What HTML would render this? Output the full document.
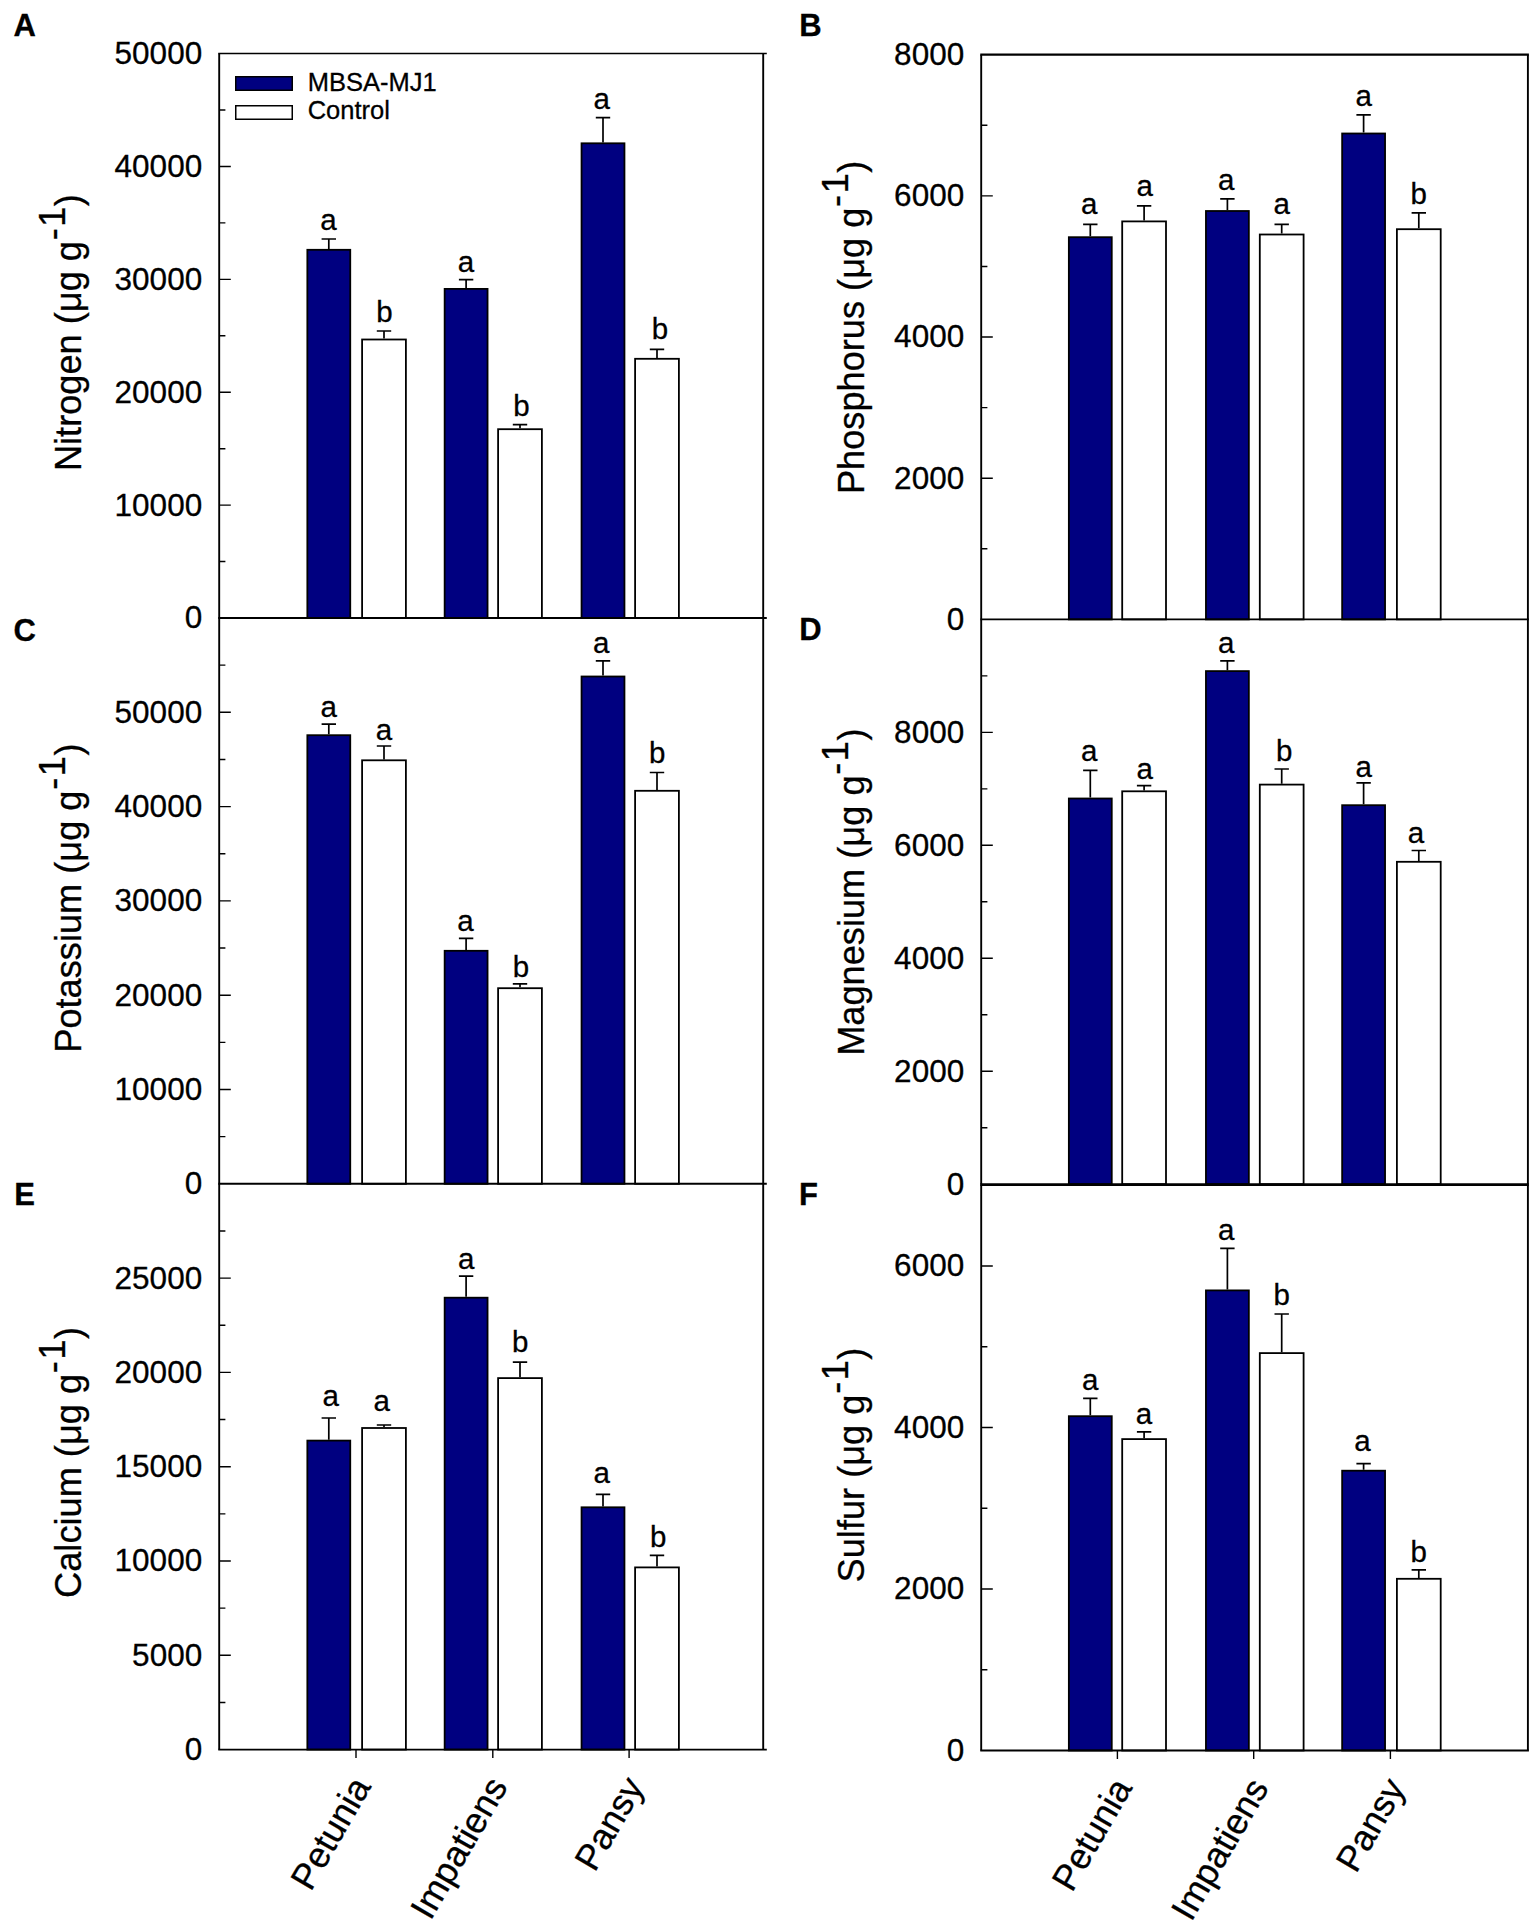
<!DOCTYPE html>
<html lang="en">
<head>
<meta charset="utf-8">
<title>Nutrient concentrations: MBSA-MJ1 vs Control</title>
<style>
html,body{margin:0;padding:0;background:#fff;}
body{width:1535px;height:1926px;overflow:hidden;}
svg{display:block;}
svg text{white-space:pre;stroke:#000;stroke-width:.3px;}
</style>
</head>
<body>
<svg width="1535" height="1926" viewBox="0 0 1535 1926" font-family="'Liberation Sans', Arial, Helvetica, sans-serif" fill="#000">
<rect width="1535" height="1926" fill="#fff"/>
<g id="panel-A">
<path d="M328.8 248.9V239M321.6 239H336" stroke="#000" stroke-width="1.7" fill="none"/>
<rect x="307.35" y="249.8" width="42.9" height="368.2" fill="#000080" stroke="#000" stroke-width="1.8"/>
<text x="328.5" y="229.9" font-size="29.5" text-anchor="middle">a</text>
<path d="M384 338.6V331M376.8 331H391.2" stroke="#000" stroke-width="1.7" fill="none"/>
<rect x="362.1" y="339.5" width="43.8" height="278.5" fill="#fff" stroke="#000" stroke-width="1.8"/>
<text x="384.5" y="322" font-size="29.5" text-anchor="middle">b</text>
<path d="M466.1 288V279.7M458.9 279.7H473.3" stroke="#000" stroke-width="1.7" fill="none"/>
<rect x="444.65" y="288.9" width="42.9" height="329.1" fill="#000080" stroke="#000" stroke-width="1.8"/>
<text x="466" y="272.3" font-size="29.5" text-anchor="middle">a</text>
<path d="M520 428.3V424.6M512.8 424.6H527.2" stroke="#000" stroke-width="1.7" fill="none"/>
<rect x="498.1" y="429.2" width="43.8" height="188.8" fill="#fff" stroke="#000" stroke-width="1.8"/>
<text x="521.5" y="415.5" font-size="29.5" text-anchor="middle">b</text>
<path d="M603 142.4V117.7M595.8 117.7H610.2" stroke="#000" stroke-width="1.7" fill="none"/>
<rect x="581.55" y="143.3" width="42.9" height="474.7" fill="#000080" stroke="#000" stroke-width="1.8"/>
<text x="601.8" y="108.5" font-size="29.5" text-anchor="middle">a</text>
<path d="M657 357.9V349.4M649.8 349.4H664.2" stroke="#000" stroke-width="1.7" fill="none"/>
<rect x="635.1" y="358.8" width="43.8" height="259.2" fill="#fff" stroke="#000" stroke-width="1.8"/>
<text x="660" y="339.3" font-size="29.5" text-anchor="middle">b</text>
<path d="M219.2 53.6V618M763.2 53.6V618" stroke="#000" stroke-width="1.9" fill="none"/>
<path d="M218.25 53.6H766.8" stroke="#000" stroke-width="1.5" fill="none"/>
<path d="M218.25 618H766.8" stroke="#000" stroke-width="1.9" fill="none"/>
<text x="202.2" y="628.4" font-size="31.5" text-anchor="end">0</text>
<text x="202.2" y="515.52" font-size="31.5" text-anchor="end">10000</text>
<text x="202.2" y="402.64" font-size="31.5" text-anchor="end">20000</text>
<text x="202.2" y="289.76" font-size="31.5" text-anchor="end">30000</text>
<text x="202.2" y="176.88" font-size="31.5" text-anchor="end">40000</text>
<text x="202.2" y="64" font-size="31.5" text-anchor="end">50000</text>
<path d="M219.2 561.56h6.2M219.2 505.12h11.6M219.2 448.68h6.2M219.2 392.24h11.6M219.2 335.8h6.2M219.2 279.36h11.6M219.2 222.92h6.2M219.2 166.48h11.6M219.2 110.04h6.2" stroke="#000" stroke-width="1.4" fill="none"/>
<text transform="translate(80.7 471.1) rotate(-90)" font-size="36.2">Nitrogen (μg g<tspan dy="-16.2" dx="0.8 1.5">-1</tspan><tspan dy="16.2" dx="0.4">)</tspan></text>
<text x="13.6" y="35.8" font-size="31" font-weight="bold">A</text>
</g>
<g id="panel-B">
<path d="M1090.3 236.3V224.3M1083.1 224.3H1097.5" stroke="#000" stroke-width="1.7" fill="none"/>
<rect x="1068.85" y="237.2" width="42.9" height="382.2" fill="#000080" stroke="#000" stroke-width="1.8"/>
<text x="1089.3" y="214.4" font-size="29.5" text-anchor="middle">a</text>
<path d="M1144.1 220.5V205.8M1136.9 205.8H1151.3" stroke="#000" stroke-width="1.7" fill="none"/>
<rect x="1122.2" y="221.4" width="43.8" height="398" fill="#fff" stroke="#000" stroke-width="1.8"/>
<text x="1144.8" y="196.2" font-size="29.5" text-anchor="middle">a</text>
<path d="M1227.4 210.1V198.9M1220.2 198.9H1234.6" stroke="#000" stroke-width="1.7" fill="none"/>
<rect x="1205.95" y="211" width="42.9" height="408.4" fill="#000080" stroke="#000" stroke-width="1.8"/>
<text x="1226.3" y="189.5" font-size="29.5" text-anchor="middle">a</text>
<path d="M1281.7 233.6V224.3M1274.5 224.3H1288.9" stroke="#000" stroke-width="1.7" fill="none"/>
<rect x="1259.8" y="234.5" width="43.8" height="384.9" fill="#fff" stroke="#000" stroke-width="1.8"/>
<text x="1281.8" y="213.6" font-size="29.5" text-anchor="middle">a</text>
<path d="M1363.6 132.6V114.8M1356.4 114.8H1370.8" stroke="#000" stroke-width="1.7" fill="none"/>
<rect x="1342.15" y="133.5" width="42.9" height="485.9" fill="#000080" stroke="#000" stroke-width="1.8"/>
<text x="1363.8" y="105.9" font-size="29.5" text-anchor="middle">a</text>
<path d="M1418.8 228.3V212.8M1411.6 212.8H1426" stroke="#000" stroke-width="1.7" fill="none"/>
<rect x="1396.9" y="229.2" width="43.8" height="390.2" fill="#fff" stroke="#000" stroke-width="1.8"/>
<text x="1418.6" y="204.2" font-size="29.5" text-anchor="middle">b</text>
<path d="M981.2 54.7V619.4M1527.9 54.7V619.4" stroke="#000" stroke-width="1.9" fill="none"/>
<path d="M980.25 54.7H1528.9" stroke="#000" stroke-width="2.2" fill="none"/>
<path d="M980.25 619.4H1528.9" stroke="#000" stroke-width="1.9" fill="none"/>
<text x="964.2" y="629.8" font-size="31.5" text-anchor="end">0</text>
<text x="964.2" y="488.62" font-size="31.5" text-anchor="end">2000</text>
<text x="964.2" y="347.45" font-size="31.5" text-anchor="end">4000</text>
<text x="964.2" y="206.28" font-size="31.5" text-anchor="end">6000</text>
<text x="964.2" y="65.1" font-size="31.5" text-anchor="end">8000</text>
<path d="M981.2 548.81h6.2M981.2 478.23h11.6M981.2 407.64h6.2M981.2 337.05h11.6M981.2 266.46h6.2M981.2 195.88h11.6M981.2 125.29h6.2" stroke="#000" stroke-width="1.4" fill="none"/>
<text transform="translate(864.3 494.1) rotate(-90)" font-size="36.2">Phosphorus (μg g<tspan dy="-16.2" dx="0.8 1.5">-1</tspan><tspan dy="16.2" dx="0.4">)</tspan></text>
<text x="799.2" y="36" font-size="31" font-weight="bold">B</text>
</g>
<g id="panel-C">
<path d="M328.8 734.3V724.2M321.6 724.2H336" stroke="#000" stroke-width="1.7" fill="none"/>
<rect x="307.35" y="735.2" width="42.9" height="448.6" fill="#000080" stroke="#000" stroke-width="1.8"/>
<text x="328.7" y="716.7" font-size="29.5" text-anchor="middle">a</text>
<path d="M384 759.4V746M376.8 746H391.2" stroke="#000" stroke-width="1.7" fill="none"/>
<rect x="362.1" y="760.3" width="43.8" height="423.5" fill="#fff" stroke="#000" stroke-width="1.8"/>
<text x="384" y="740.3" font-size="29.5" text-anchor="middle">a</text>
<path d="M466.1 949.9V938.4M458.9 938.4H473.3" stroke="#000" stroke-width="1.7" fill="none"/>
<rect x="444.65" y="950.8" width="42.9" height="233" fill="#000080" stroke="#000" stroke-width="1.8"/>
<text x="465.5" y="930.6" font-size="29.5" text-anchor="middle">a</text>
<path d="M520 987.3V983.8M512.8 983.8H527.2" stroke="#000" stroke-width="1.7" fill="none"/>
<rect x="498.1" y="988.2" width="43.8" height="195.6" fill="#fff" stroke="#000" stroke-width="1.8"/>
<text x="521" y="976.6" font-size="29.5" text-anchor="middle">b</text>
<path d="M603 675.6V660.9M595.8 660.9H610.2" stroke="#000" stroke-width="1.7" fill="none"/>
<rect x="581.55" y="676.5" width="42.9" height="507.3" fill="#000080" stroke="#000" stroke-width="1.8"/>
<text x="601.2" y="652.9" font-size="29.5" text-anchor="middle">a</text>
<path d="M657 789.9V772.5M649.8 772.5H664.2" stroke="#000" stroke-width="1.7" fill="none"/>
<rect x="635.1" y="790.8" width="43.8" height="393" fill="#fff" stroke="#000" stroke-width="1.8"/>
<text x="657.3" y="763.2" font-size="29.5" text-anchor="middle">b</text>
<path d="M219.2 618V1183.8M763.2 618V1183.8" stroke="#000" stroke-width="1.9" fill="none"/>
<path d="M218.25 1183.8H766.8" stroke="#000" stroke-width="1.9" fill="none"/>
<text x="202.2" y="1194.2" font-size="31.5" text-anchor="end">0</text>
<text x="202.2" y="1099.9" font-size="31.5" text-anchor="end">10000</text>
<text x="202.2" y="1005.6" font-size="31.5" text-anchor="end">20000</text>
<text x="202.2" y="911.3" font-size="31.5" text-anchor="end">30000</text>
<text x="202.2" y="817" font-size="31.5" text-anchor="end">40000</text>
<text x="202.2" y="722.7" font-size="31.5" text-anchor="end">50000</text>
<path d="M219.2 1136.65h6.2M219.2 1089.5h11.6M219.2 1042.35h6.2M219.2 995.2h11.6M219.2 948.05h6.2M219.2 900.9h11.6M219.2 853.75h6.2M219.2 806.6h11.6M219.2 759.45h6.2M219.2 712.3h11.6M219.2 665.15h6.2" stroke="#000" stroke-width="1.4" fill="none"/>
<text transform="translate(80.8 1052.7) rotate(-90)" font-size="36.2">Potassium (μg g<tspan dy="-16.2" dx="0.8 1.5">-1</tspan><tspan dy="16.2" dx="0.4">)</tspan></text>
<text x="13.5" y="640.5" font-size="31" font-weight="bold">C</text>
</g>
<g id="panel-D">
<path d="M1090.3 797.6V770.4M1083.1 770.4H1097.5" stroke="#000" stroke-width="1.7" fill="none"/>
<rect x="1068.85" y="798.5" width="42.9" height="385.7" fill="#000080" stroke="#000" stroke-width="1.8"/>
<text x="1089.3" y="761" font-size="29.5" text-anchor="middle">a</text>
<path d="M1144.1 790.4V785.6M1136.9 785.6H1151.3" stroke="#000" stroke-width="1.7" fill="none"/>
<rect x="1122.2" y="791.3" width="43.8" height="392.9" fill="#fff" stroke="#000" stroke-width="1.8"/>
<text x="1144.8" y="778.9" font-size="29.5" text-anchor="middle">a</text>
<path d="M1227.4 670.2V660.9M1220.2 660.9H1234.6" stroke="#000" stroke-width="1.7" fill="none"/>
<rect x="1205.95" y="671.1" width="42.9" height="513.1" fill="#000080" stroke="#000" stroke-width="1.8"/>
<text x="1226.3" y="653.4" font-size="29.5" text-anchor="middle">a</text>
<path d="M1281.7 783.7V769M1274.5 769H1288.9" stroke="#000" stroke-width="1.7" fill="none"/>
<rect x="1259.8" y="784.6" width="43.8" height="399.6" fill="#fff" stroke="#000" stroke-width="1.8"/>
<text x="1284.2" y="761" font-size="29.5" text-anchor="middle">b</text>
<path d="M1363.6 804.3V782.9M1356.4 782.9H1370.8" stroke="#000" stroke-width="1.7" fill="none"/>
<rect x="1342.15" y="805.2" width="42.9" height="379" fill="#000080" stroke="#000" stroke-width="1.8"/>
<text x="1363.8" y="776.8" font-size="29.5" text-anchor="middle">a</text>
<path d="M1418.8 860.9V850.5M1411.6 850.5H1426" stroke="#000" stroke-width="1.7" fill="none"/>
<rect x="1396.9" y="861.8" width="43.8" height="322.4" fill="#fff" stroke="#000" stroke-width="1.8"/>
<text x="1415.9" y="842.5" font-size="29.5" text-anchor="middle">a</text>
<path d="M981.2 619.4V1184.2M1527.9 619.4V1184.2" stroke="#000" stroke-width="1.9" fill="none"/>
<path d="M980.25 1184.2H1528.9" stroke="#000" stroke-width="1.9" fill="none"/>
<text x="964.2" y="1194.6" font-size="31.5" text-anchor="end">0</text>
<text x="964.2" y="1081.64" font-size="31.5" text-anchor="end">2000</text>
<text x="964.2" y="968.68" font-size="31.5" text-anchor="end">4000</text>
<text x="964.2" y="855.72" font-size="31.5" text-anchor="end">6000</text>
<text x="964.2" y="742.76" font-size="31.5" text-anchor="end">8000</text>
<path d="M981.2 1127.72h6.2M981.2 1071.24h11.6M981.2 1014.76h6.2M981.2 958.28h11.6M981.2 901.8h6.2M981.2 845.32h11.6M981.2 788.84h6.2M981.2 732.36h11.6M981.2 675.88h6.2" stroke="#000" stroke-width="1.4" fill="none"/>
<text transform="translate(864.3 1055.8) rotate(-90)" font-size="36.2">Magnesium (μg g<tspan dy="-16.2" dx="0.8 1.5">-1</tspan><tspan dy="16.2" dx="0.4">)</tspan></text>
<text x="799.2" y="640" font-size="31" font-weight="bold">D</text>
</g>
<g id="panel-E">
<path d="M328.8 1439.7V1418M321.6 1418H336" stroke="#000" stroke-width="1.7" fill="none"/>
<rect x="307.35" y="1440.6" width="42.9" height="309" fill="#000080" stroke="#000" stroke-width="1.8"/>
<text x="330.6" y="1406.3" font-size="29.5" text-anchor="middle">a</text>
<path d="M384 1427.1V1425M376.8 1425H391.2" stroke="#000" stroke-width="1.7" fill="none"/>
<rect x="362.1" y="1428" width="43.8" height="321.6" fill="#fff" stroke="#000" stroke-width="1.8"/>
<text x="381.6" y="1411" font-size="29.5" text-anchor="middle">a</text>
<path d="M466.1 1296.8V1276.2M458.9 1276.2H473.3" stroke="#000" stroke-width="1.7" fill="none"/>
<rect x="444.65" y="1297.7" width="42.9" height="451.9" fill="#000080" stroke="#000" stroke-width="1.8"/>
<text x="466.3" y="1269.3" font-size="29.5" text-anchor="middle">a</text>
<path d="M520 1377.2V1362.2M512.8 1362.2H527.2" stroke="#000" stroke-width="1.7" fill="none"/>
<rect x="498.1" y="1378.1" width="43.8" height="371.5" fill="#fff" stroke="#000" stroke-width="1.8"/>
<text x="520.2" y="1352.3" font-size="29.5" text-anchor="middle">b</text>
<path d="M603 1506.4V1494.4M595.8 1494.4H610.2" stroke="#000" stroke-width="1.7" fill="none"/>
<rect x="581.55" y="1507.3" width="42.9" height="242.3" fill="#000080" stroke="#000" stroke-width="1.8"/>
<text x="601.7" y="1483.2" font-size="29.5" text-anchor="middle">a</text>
<path d="M657 1566.5V1555.3M649.8 1555.3H664.2" stroke="#000" stroke-width="1.7" fill="none"/>
<rect x="635.1" y="1567.4" width="43.8" height="182.2" fill="#fff" stroke="#000" stroke-width="1.8"/>
<text x="658.1" y="1546.5" font-size="29.5" text-anchor="middle">b</text>
<path d="M219.2 1183.8V1749.6M763.2 1183.8V1749.6" stroke="#000" stroke-width="1.9" fill="none"/>
<path d="M218.25 1749.6H766.8" stroke="#000" stroke-width="1.9" fill="none"/>
<text x="202.2" y="1760" font-size="31.5" text-anchor="end">0</text>
<text x="202.2" y="1665.7" font-size="31.5" text-anchor="end">5000</text>
<text x="202.2" y="1571.4" font-size="31.5" text-anchor="end">10000</text>
<text x="202.2" y="1477.1" font-size="31.5" text-anchor="end">15000</text>
<text x="202.2" y="1382.8" font-size="31.5" text-anchor="end">20000</text>
<text x="202.2" y="1288.5" font-size="31.5" text-anchor="end">25000</text>
<path d="M219.2 1702.45h6.2M219.2 1655.3h11.6M219.2 1608.15h6.2M219.2 1561h11.6M219.2 1513.85h6.2M219.2 1466.7h11.6M219.2 1419.55h6.2M219.2 1372.4h11.6M219.2 1325.25h6.2M219.2 1278.1h11.6M219.2 1230.95h6.2" stroke="#000" stroke-width="1.4" fill="none"/>
<text transform="translate(80.8 1597.9) rotate(-90)" font-size="36.2">Calcium (μg g<tspan dy="-16.2" dx="0.8 1.5">-1</tspan><tspan dy="16.2" dx="0.4">)</tspan></text>
<text x="14.3" y="1204.9" font-size="31" font-weight="bold">E</text>
<text transform="translate(371.7 1786.4) rotate(-60)" font-size="36" text-anchor="end">Petunia</text>
<text transform="translate(508.5 1786.4) rotate(-60)" font-size="36" text-anchor="end">Impatiens</text>
<text transform="translate(644.8 1786.4) rotate(-60)" font-size="36" text-anchor="end">Pansy</text>
<path d="M356 1749.6v8.5M492.8 1749.6v8.5M629.1 1749.6v8.5" stroke="#000" stroke-width="1.4" fill="none"/>
</g>
<g id="panel-F">
<path d="M1090.3 1415.3V1398.4M1083.1 1398.4H1097.5" stroke="#000" stroke-width="1.7" fill="none"/>
<rect x="1068.85" y="1416.2" width="42.9" height="334.3" fill="#000080" stroke="#000" stroke-width="1.8"/>
<text x="1090.1" y="1390.2" font-size="29.5" text-anchor="middle">a</text>
<path d="M1144.1 1438.2V1431.8M1136.9 1431.8H1151.3" stroke="#000" stroke-width="1.7" fill="none"/>
<rect x="1122.2" y="1439.1" width="43.8" height="311.4" fill="#fff" stroke="#000" stroke-width="1.8"/>
<text x="1144" y="1424.4" font-size="29.5" text-anchor="middle">a</text>
<path d="M1227.4 1289.5V1248.3M1220.2 1248.3H1234.6" stroke="#000" stroke-width="1.7" fill="none"/>
<rect x="1205.95" y="1290.4" width="42.9" height="460.1" fill="#000080" stroke="#000" stroke-width="1.8"/>
<text x="1226.3" y="1239.5" font-size="29.5" text-anchor="middle">a</text>
<path d="M1281.7 1352.2V1314M1274.5 1314H1288.9" stroke="#000" stroke-width="1.7" fill="none"/>
<rect x="1259.8" y="1353.1" width="43.8" height="397.4" fill="#fff" stroke="#000" stroke-width="1.8"/>
<text x="1281.8" y="1305" font-size="29.5" text-anchor="middle">b</text>
<path d="M1363.6 1469.8V1463.6M1356.4 1463.6H1370.8" stroke="#000" stroke-width="1.7" fill="none"/>
<rect x="1342.15" y="1470.7" width="42.9" height="279.8" fill="#000080" stroke="#000" stroke-width="1.8"/>
<text x="1362.5" y="1451.1" font-size="29.5" text-anchor="middle">a</text>
<path d="M1418.8 1577.9V1569.9M1411.6 1569.9H1426" stroke="#000" stroke-width="1.7" fill="none"/>
<rect x="1396.9" y="1578.8" width="43.8" height="171.7" fill="#fff" stroke="#000" stroke-width="1.8"/>
<text x="1418.6" y="1561.9" font-size="29.5" text-anchor="middle">b</text>
<path d="M981.2 1185.2V1750.5M1527.9 1185.2V1750.5" stroke="#000" stroke-width="1.9" fill="none"/>
<path d="M980.25 1750.5H1528.9" stroke="#000" stroke-width="1.9" fill="none"/>
<path d="M980.25 1185.2H1528.9" stroke="#000" stroke-width="1.5" fill="none"/>
<text x="964.2" y="1760.9" font-size="31.5" text-anchor="end">0</text>
<text x="964.2" y="1599.39" font-size="31.5" text-anchor="end">2000</text>
<text x="964.2" y="1437.87" font-size="31.5" text-anchor="end">4000</text>
<text x="964.2" y="1276.36" font-size="31.5" text-anchor="end">6000</text>
<path d="M981.2 1669.74h6.2M981.2 1588.99h11.6M981.2 1508.23h6.2M981.2 1427.47h11.6M981.2 1346.71h6.2M981.2 1265.96h11.6" stroke="#000" stroke-width="1.4" fill="none"/>
<text transform="translate(864.3 1582.4) rotate(-90)" font-size="36.2">Sulfur (μg g<tspan dy="-16.2" dx="0.8 1.5">-1</tspan><tspan dy="16.2" dx="0.4">)</tspan></text>
<text x="799" y="1204.9" font-size="31" font-weight="bold">F</text>
<text transform="translate(1133.1 1787.6) rotate(-60)" font-size="36" text-anchor="end">Petunia</text>
<text transform="translate(1269.4 1787.6) rotate(-60)" font-size="36" text-anchor="end">Impatiens</text>
<text transform="translate(1406.1 1787.6) rotate(-60)" font-size="36" text-anchor="end">Pansy</text>
<path d="M1117.4 1750.5v8.5M1253.7 1750.5v8.5M1390.4 1750.5v8.5" stroke="#000" stroke-width="1.4" fill="none"/>
</g>
<g id="legend">
<rect x="235.75" y="76.75" width="56.5" height="13.5" fill="#000080" stroke="#000" stroke-width="1.5"/>
<rect x="235.75" y="105.75" width="56.5" height="13.5" fill="#fff" stroke="#000" stroke-width="1.5"/>
<text x="307.7" y="90.8" font-size="25.5">MBSA-MJ1</text>
<text x="307.7" y="119.0" font-size="25.5">Control</text>
</g>
</svg>
</body>
</html>
